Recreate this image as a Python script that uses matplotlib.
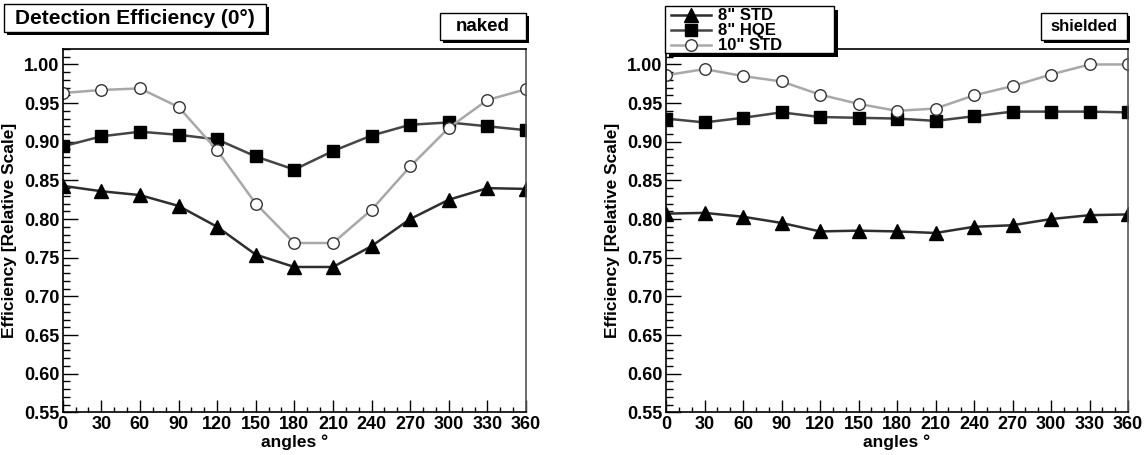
import numpy as np
import matplotlib
matplotlib.use("Agg")
import matplotlib.pyplot as plt
from matplotlib.patches import Rectangle
from matplotlib.lines import Line2D
from matplotlib.ticker import MultipleLocator, FormatStrFormatter

plt.rcParams['font.family'] = ['Liberation Sans', 'DejaVu Sans']
plt.rcParams['font.weight'] = 'bold'

# data
angles = [0, 30, 60, 90, 120, 150, 180, 210, 240, 270, 300, 330, 360]

naked_std8 = [0.843, 0.836, 0.831, 0.817, 0.790, 0.754, 0.738, 0.738, 0.765, 0.800, 0.825, 0.840, 0.839]
naked_hqe8 = [0.894, 0.907, 0.913, 0.909, 0.903, 0.881, 0.864, 0.888, 0.908, 0.922, 0.925, 0.920, 0.915]
naked_std10 = [0.963, 0.967, 0.969, 0.945, 0.889, 0.820, 0.769, 0.769, 0.812, 0.868, 0.918, 0.954, 0.968]

shielded_std8 = [0.807, 0.808, 0.803, 0.795, 0.784, 0.785, 0.784, 0.782, 0.790, 0.792, 0.800, 0.805, 0.806]
shielded_hqe8 = [0.930, 0.925, 0.931, 0.938, 0.932, 0.931, 0.930, 0.927, 0.933, 0.939, 0.939, 0.939, 0.938]
shielded_std10 = [0.986, 0.994, 0.985, 0.978, 0.961, 0.949, 0.940, 0.943, 0.960, 0.972, 0.987, 1.000, 1.000]

series_labels = ['8" STD', '8" HQE', '10" STD']
panel_labels = ['naked', 'shielded']

W, H = 1147, 455
fig = plt.figure(figsize=(W / 100, H / 100), dpi=100)

# styles: (line colour, marker, marker size, face, edge)
styles = [
    ('#2e2e2e', '^', 10, 'black', 'black'),
    ('#454545', 's', 9, 'black', 'black'),
    ('#a8a8a8', 'o', 8.3, 'white', '#333333'),
]


def pave(x0, y0, x1, y1, text=None, size=12, shadow=3):
    """ROOT-like box with a black shadow, given in pixels from the top left"""
    fig.add_artist(Rectangle(((x0 + shadow) / W, 1 - (y1 + shadow) / H),
                             (x1 - x0) / W, (y1 - y0) / H,
                             transform=fig.transFigure, facecolor='black',
                             edgecolor='none', zorder=10))
    fig.add_artist(Rectangle((x0 / W, 1 - y1 / H), (x1 - x0) / W, (y1 - y0) / H,
                             transform=fig.transFigure, facecolor='white',
                             edgecolor='black', linewidth=1, zorder=11))
    if text:
        fig.text((x0 + x1) / 2 / W, 1 - (y0 + y1) / 2 / H, text, ha='center',
                 va='center', fontsize=size, fontweight='bold', zorder=12)


def draw_panel(ax, ys):
    for y, (lc, mk, ms, fc, ec) in zip(ys, styles):
        ax.plot(angles, y, color=lc, linewidth=1.8, marker=mk, markersize=ms,
                markerfacecolor=fc, markeredgecolor=ec, markeredgewidth=1)
    ax.set_xlim(0, 360)
    ax.set_ylim(0.55, 1.02)
    ax.xaxis.set_major_locator(MultipleLocator(30))
    ax.xaxis.set_minor_locator(MultipleLocator(10))
    ax.yaxis.set_major_locator(MultipleLocator(0.05))
    ax.yaxis.set_minor_locator(MultipleLocator(0.01))
    ax.yaxis.set_major_formatter(FormatStrFormatter('%.2f'))
    ax.tick_params(axis='x', which='major', direction='in', length=8.4, width=1,
                   labelsize=13, pad=3)
    ax.tick_params(axis='x', which='minor', direction='in', length=3.6, width=1)
    ax.tick_params(axis='y', which='major', direction='in', length=11, width=1,
                   labelsize=13, pad=2.5)
    ax.tick_params(axis='y', which='minor', direction='in', length=5.3, width=1)
    for lab in ax.get_xticklabels() + ax.get_yticklabels():
        lab.set_fontweight('bold')
    ax.set_xlabel('angles °', fontsize=12.5, fontweight='bold', labelpad=1)
    ax.set_ylabel('Efficiency [Relative Scale]', fontsize=12.5, fontweight='bold',
                  labelpad=1)
    ax.yaxis.set_label_coords(-46 / 463, 0.5)
    ax.spines['right'].set_color('#555555')
    for s in ax.spines.values():
        s.set_linewidth(1.2)


ax1 = fig.add_axes([62.7 / W, 1 - 412.3 / H, 463.3 / W, 363.3 / H])
ax2 = fig.add_axes([666 / W, 1 - 412.3 / H, 462 / W, 363.3 / H])

draw_panel(ax1, [naked_std8, naked_hqe8, naked_std10])
draw_panel(ax2, [shielded_std8, shielded_hqe8, shielded_std10])

pave(4, 4, 266, 32, 'Detection Efficiency (0°)', 15)
pave(440, 13, 526, 40, panel_labels[0], 13.5)
pave(1041, 13, 1127, 40, panel_labels[1], 12)

# legend box drawn as a pave, entries on top of it
pave(665, 6, 834, 53, shadow=4)
handles = [Line2D([], [], color=lc, linewidth=1.8, marker=mk, markersize=ms,
                  markerfacecolor=fc, markeredgecolor=ec, markeredgewidth=1)
           for (lc, mk, ms, fc, ec) in styles]
leg = fig.legend(handles, series_labels, loc='upper left',
                 bbox_to_anchor=(671 / W, 1 - 8.5 / H), frameon=False,
                 borderaxespad=0, borderpad=0,
                 handlelength=2.4, handletextpad=0.45, labelspacing=0.0,
                 prop={'size': 12, 'weight': 'bold'})
leg.set_zorder(20)

fig.savefig('out.png', dpi=100)
